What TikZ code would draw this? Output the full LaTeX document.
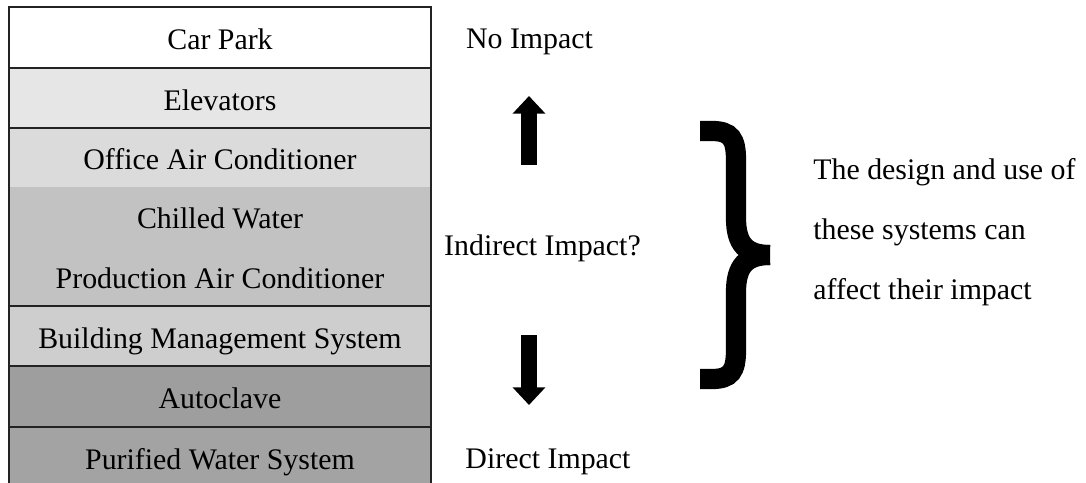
\documentclass[tikz,border=0pt]{standalone}
\usepackage{fontspec}
\setmainfont{Liberation Serif}
\usetikzlibrary{arrows.meta}
\definecolor{ink}{RGB}{35,35,35}
\definecolor{gElev}{RGB}{230,230,230}
\definecolor{gOff}{RGB}{219,219,219}
\definecolor{gChill}{RGB}{194,194,194}
\definecolor{gBms}{RGB}{206,206,206}
\definecolor{gAuto}{RGB}{158,158,158}
\definecolor{gPure}{RGB}{163,163,163}
\tikzset{
  band/.style={rectangle,minimum width=8.44cm,inner sep=0pt,
    text height=16pt,text depth=1.8pt,
    font=\fontsize{17}{20}\selectfont},
  sep/.style={line width=1.1pt,draw=ink},
  lbl/.style={font=\fontsize{17}{20}\selectfont,inner sep=0pt},
  fat/.style={line width=9pt,-{Triangle[width=18pt,length=10pt]}},
  curly/.style={line width=11.5pt,line cap=butt},
}

\begin{document}
\begin{tikzpicture}[x=0.02cm,y=-0.02cm]
  \clip (0,0) rectangle (1086,483);
  \fill[white] (0,0) rectangle (1086,483);

  % left column: systems ordered by impact
  \node[band,fill=white,minimum height=1.22cm]  (carpark) at (220,37.5) {Car Park};
  \node[band,fill=gElev,minimum height=1.20cm]  (elev)    at (220,98)   {Elevators};
  \node[band,fill=gOff,minimum height=1.18cm]   (offac)   at (220,157.5){Office Air Conditioner};
  \node[band,fill=gChill,minimum height=1.18cm] (chill)   at (220,216.5){Chilled Water};
  \node[band,fill=gChill,minimum height=1.20cm] (prodac)  at (220,276)  {Production Air Conditioner};
  \node[band,fill=gBms,minimum height=1.20cm]   (bms)     at (220,336)  {Building Management System};
  \node[band,fill=gAuto,minimum height=1.22cm]  (autocl)  at (220,396.5){Autoclave};
  \node[band,fill=gPure,minimum height=1.20cm]  (pure)    at (220,457)  {Purified Water System};
  \draw[sep] (carpark.south west) -- (carpark.south east);
  \draw[sep] (elev.south west) -- (elev.south east);
  \draw[sep] (prodac.south west) -- (prodac.south east);
  \draw[sep] (bms.south west) -- (bms.south east);
  \draw[sep] (autocl.south west) -- (autocl.south east);
  \draw[sep] (carpark.north west) rectangle (pure.south east);

  % middle: impact scale
  \node[lbl] (noimp)  at (529.5,42)  {No Impact};
  \node[lbl] (indimp) at (542.5,248) {Indirect Impact?};
  \node[lbl] (dirimp) at (548,462)   {Direct Impact};
  \coordinate (upS) at (529,165);
  \coordinate (upE) at (529,96);
  \coordinate (dnS) at (529,335);
  \coordinate (dnE) at (529,405);
  \draw[fat] (upS) -- (upE);
  \draw[fat] (dnS) -- (dnE);

  % brace
  \draw[curly] (700,131) -- (712,131) .. controls (731,131) and (736,139) .. (736,160)
    -- (736,218) .. controls (736,244) and (746,255) .. (770,255);
  \draw[curly] (770,255) .. controls (746,255) and (736,266) .. (736,292)
    -- (736,350) .. controls (736,371) and (731,379) .. (712,379) -- (700,379);

  \node[lbl,anchor=west,align=left,font=\fontsize{17}{34}\selectfont] (note) at (813,232)
    {The design and use of\\these systems can\\affect their impact};
\end{tikzpicture}
\end{document}
